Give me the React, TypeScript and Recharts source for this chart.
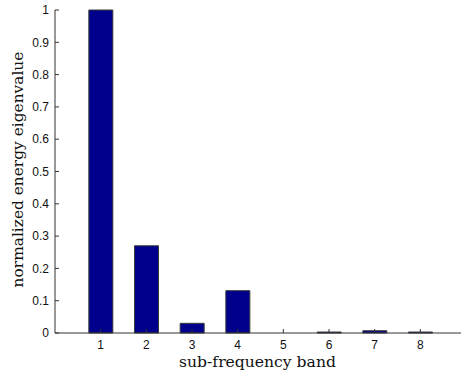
import React from "react";
import { BarChart, Bar, XAxis, YAxis } from "recharts";

const bands = [1, 2, 3, 4, 5, 6, 7, 8];
const eigenvalues = [1.0, 0.27, 0.03, 0.131, 0.0, 0.003, 0.007, 0.003];
const yTicks = [0, 0.1, 0.2, 0.3, 0.4, 0.5, 0.6, 0.7, 0.8, 0.9, 1];
const xTitle = "sub-frequency band";
const yTitle = "normalized energy eigenvalue";

const data = bands.map((b, i) => ({ band: b, value: eigenvalues[i] }));

const AXIS = "#333333";
const tickFont = { fontFamily: "Liberation Sans, Arial, sans-serif", fontSize: 12, fill: "#111" };
const titleFont = "DejaVu Serif, serif";

const fmtY = (v: number) => (v === 0 ? "0" : v === 1 ? "1" : String(v));

export default function App() {
  return (
    <div style={{ position: "absolute", left: 0, top: 0, width: 461, height: 378, overflow: "hidden", background: "#fff" }}>
      <BarChart
        width={470}
        height={378}
        data={data}
        margin={{ top: 10, right: 4, bottom: 0, left: 0 }}
        barSize={24}
      >
        <XAxis
          xAxisId="top"
          orientation="top"
          dataKey="band"
          type="number"
          domain={[0, 9]}
          ticks={bands}
          height={0}
          stroke={AXIS}
          tickSize={-4}
          tickFormatter={() => ""}
        />
        <XAxis
          dataKey="band"
          type="number"
          domain={[0, 9]}
          ticks={bands}
          height={45}
          stroke={AXIS}
          tickSize={-4}
          tickMargin={11}
          tick={tickFont}
          label={{
            content: (p: any) => {
              const vb = p.viewBox || {};
              return (
                <text
                  x={vb.x + vb.width / 2 - 3}
                  y={367}
                  textAnchor="middle"
                  fontFamily={titleFont}
                  fontSize={15.6}
                  fill="#111"
                >
                  {xTitle}
                </text>
              );
            },
          }}
        />
        <YAxis
          domain={[0, 1]}
          ticks={yTicks}
          width={55}
          stroke={AXIS}
          tickSize={-4}
          tickMargin={10}
          tick={tickFont}
          tickFormatter={fmtY}
          label={{
            content: (p: any) => {
              const vb = p.viewBox || {};
              const cx = 18;
              const cy = vb.y + vb.height / 2 - 2;
              return (
                <text
                  x={cx}
                  y={cy}
                  transform={`rotate(-90, ${cx}, ${cy})`}
                  textAnchor="middle"
                  dominantBaseline="central"
                  fontFamily={titleFont}
                  fontSize={15.4}
                  fill="#111"
                >
                  {yTitle}
                </text>
              );
            },
          }}
        />
        <Bar dataKey="value" fill="#00008c" stroke="#3a3a3a" strokeWidth={1} isAnimationActive={false} />
      </BarChart>
    </div>
  );
}
